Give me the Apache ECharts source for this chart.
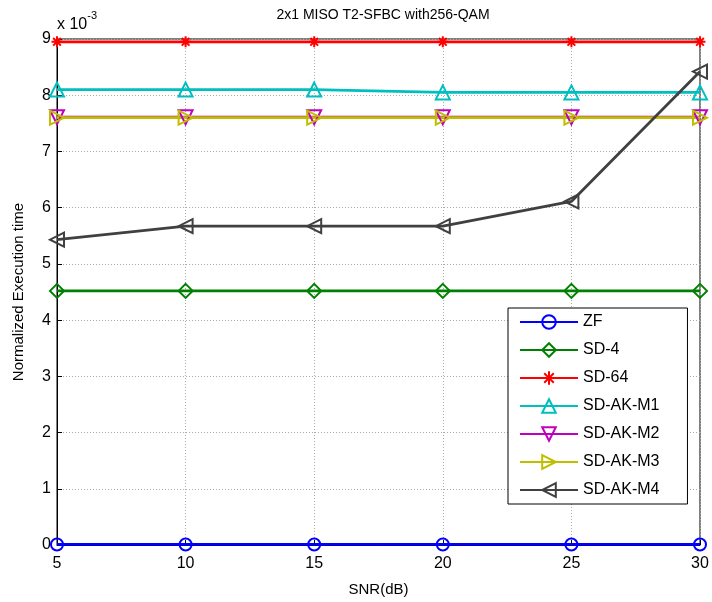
<!DOCTYPE html>
<html><head><meta charset="utf-8">
<script src="https://cdn.jsdelivr.net/npm/echarts@6/dist/echarts.min.js"></script>
<style>html,body{margin:0;padding:0;background:#fff}#c{width:712px;height:602px}</style>
</head><body><div id="c"></div>
<script>
// SNR values (dB)
const snr = [5, 10, 15, 20, 25, 30];
// Normalized execution time, in units of 1e-3
const zf      = [0.01, 0.01, 0.01, 0.01, 0.01, 0.01];
const sd4     = [4.52, 4.52, 4.52, 4.52, 4.52, 4.52];
const sd64    = [8.95, 8.95, 8.95, 8.95, 8.95, 8.95];
const sdakm1  = [8.10, 8.10, 8.10, 8.05, 8.05, 8.05];
const sdakm2  = [7.61, 7.61, 7.61, 7.61, 7.61, 7.61];
const sdakm3  = [7.60, 7.60, 7.60, 7.60, 7.60, 7.60];
const sdakm4  = [5.43, 5.67, 5.67, 5.67, 6.11, 8.42];
const yTicks = [0,1,2,3,4,5,6,7,8,9];

const font = 'Liberation Sans, Arial, sans-serif';
const chart = echarts.init(document.getElementById('c'));
function mk(name, data, color, symbol, size, filled) {
  return {
    name, type: 'line', data: snr.map((x, i) => [x, data[i]]),
    symbol, symbolSize: size, showAllSymbol: true,
    lineStyle: { color, width: 2.8 },
    itemStyle: { color: filled ? color : 'rgba(255,255,255,0)', borderColor: color, borderWidth: 2 },
    emphasis: { disabled: true }, animation: false
  };
}
const star = 'path://M5,0L5,10M0,5L10,5M1.5,1.5L8.5,8.5M8.5,1.5L1.5,8.5';
chart.setOption({
  animation: false,
  title: { text: '2x1 MISO T2-SFBC with256-QAM', left: 378, top: 3, textAlign: 'center',
    textStyle: { fontFamily: font, fontSize: 14, fontWeight: 'normal', color: '#000' } },
  grid: { left: 57, right: 12, top: 39, bottom: 57, show: true, borderColor: '#000', borderWidth: 1,
    containLabel: false, outerBoundsMode: 'none' },
  graphic: [{ type: 'text', left: 57, top: 10, style: { text: '{a|x 10}{b|-3}', fontFamily: font,
    rich: { a: { fontSize: 16, fontFamily: font, fill: '#000', padding: [7,0,0,0] }, b: { fontSize: 11, fontFamily: font, fill: '#000', verticalAlign: 'top', padding: [0,0,10,0] } } } }],
  legend: {
    orient: 'vertical', left: 508, top: 308,
    padding: [6, 28, 6, 11], itemGap: 12, itemWidth: 58, itemHeight: 17,
    backgroundColor: '#fff', borderColor: '#000', borderWidth: 1,
    textStyle: { fontFamily: font, fontSize: 16, color: '#000' },
    data: ['ZF','SD-4','SD-64','SD-AK-M1','SD-AK-M2','SD-AK-M3','SD-AK-M4']
  },
  xAxis: {
    type: 'value', min: 5, max: 30, interval: 5,
    name: 'SNR(dB)', nameLocation: 'middle', nameGap: 37,
    nameTextStyle: { fontFamily: font, fontSize: 15, color: '#000' },
    axisLine: { lineStyle: { color: '#000' } },
    axisTick: { inside: true, length: 5, lineStyle: { color: '#000' } },
    axisLabel: { fontFamily: font, fontSize: 16, color: '#000', margin: 11 },
    splitLine: { show: true, lineStyle: { color: '#aaa', type: [1, 2], width: 1 } }
  },
  yAxis: {
    type: 'value', min: 0, max: 9, interval: 1,
    name: 'Normalized Execution time', nameLocation: 'middle', nameGap: 31,
    nameTextStyle: { fontFamily: font, fontSize: 15, color: '#000' },
    axisLine: { show: true, lineStyle: { color: '#000' } },
    axisTick: { show: true, inside: true, length: 5, lineStyle: { color: '#000' } },
    axisLabel: { fontFamily: font, fontSize: 16, color: '#000', margin: 6,
      formatter: v => yTicks.includes(v) ? String(v) : '' },
    splitLine: { show: true, lineStyle: { color: '#aaa', type: [1, 2], width: 1 } }
  },
  series: [
    mk('ZF', zf, '#0000ff', 'circle', 12, false),
    mk('SD-4', sd4, '#008000', 'diamond', 14, false),
    mk('SD-64', sd64, '#ff0000', star, 11, true),
    mk('SD-AK-M1', sdakm1, '#00bfbf', 'triangle', 14, false),
    mk('SD-AK-M2', sdakm2, '#bf00bf', 'path://M0,0L10,0L5,9Z', 14, false),
    mk('SD-AK-M3', sdakm3, '#bfbf00', 'path://M0,0L9,5L0,10Z', 14, false),
    mk('SD-AK-M4', sdakm4, '#404040', 'path://M9,0L0,5L9,10Z', 14, false)
  ]
});
</script></body></html>
